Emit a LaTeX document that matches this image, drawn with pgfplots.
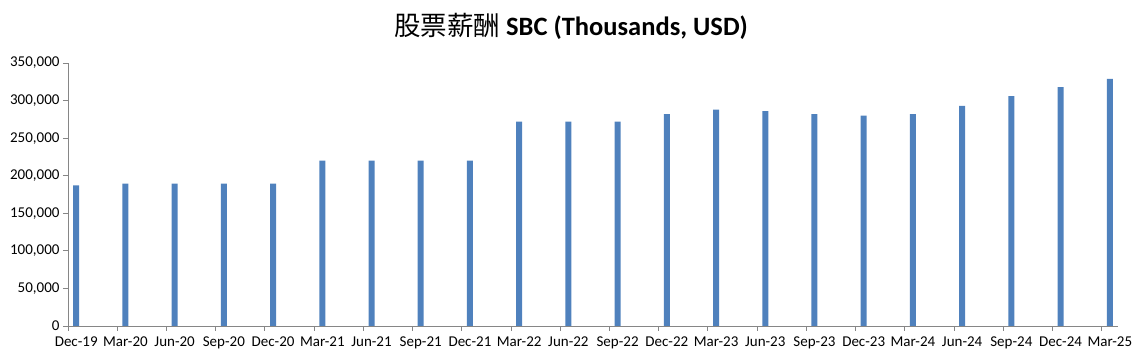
\documentclass[border=0pt]{standalone}
\usepackage{fontspec}
\setmainfont{Carlito}
\newfontfamily\cjk{Noto Sans CJK SC}
\usepackage{pgfplots}
\pgfplotsset{compat=1.18}
\definecolor{barblue}{HTML}{4F81BD}
\definecolor{axisgray}{HTML}{868686}
\begin{document}
\begin{tikzpicture}[x=1pt,y=1pt]
\useasboundingbox (0,0) rectangle (1135,363);
\node[font=\fontsize{26.5}{28}\selectfont] at (571,337) {{\cjk 股票薪酬} \textbf{SBC (Thousands, USD)}};
\begin{axis}[
  at={(68pt,37pt)}, anchor=south west,
  scale only axis, width=1050pt, height=263pt,
  xmin=0, xmax=64, ymin=0, ymax=350000,
  axis lines=left,
  axis line style={draw=axisgray, line width=0.8pt, -},
  tick style={draw=axisgray, line width=0.8pt},
  tick align=outside,
  major tick length=5pt,
  xtick={0,3,...,63},
  xticklabels={},
  extra x ticks={0.5,3.5,...,63.5},
  extra x tick labels={Dec-19,Mar-20,Jun-20,Sep-20,Dec-20,Mar-21,Jun-21,Sep-21,Dec-21,Mar-22,Jun-22,Sep-22,Dec-22,Mar-23,Jun-23,Sep-23,Dec-23,Mar-24,Jun-24,Sep-24,Dec-24,Mar-25},
  extra x tick style={major tick length=0pt},
  xticklabel style={yshift=-7pt},
  ytick={0,50000,100000,150000,200000,250000,300000,350000},
  yticklabels={{0},{50,000},{100,000},{150,000},{200,000},{250,000},{300,000},{350,000}},
  scaled y ticks=false,
  tick label style={font=\fontsize{15}{17}\selectfont, text=black},
]
\addplot[ybar, bar width=6pt, fill=barblue, draw=none] coordinates {
(0.5,187000) (3.5,189500) (6.5,189500) (9.5,189500) (12.5,189500)
(15.5,220000) (18.5,220000) (21.5,220000) (24.5,220000)
(27.5,272000) (30.5,272000) (33.5,272000) (36.5,282000)
(39.5,288000) (42.5,286000) (45.5,282000) (48.5,280000)
(51.5,282000) (54.5,293000) (57.5,306000) (60.5,318000) (63.5,329000)
};
\end{axis}
\end{tikzpicture}
\end{document}
